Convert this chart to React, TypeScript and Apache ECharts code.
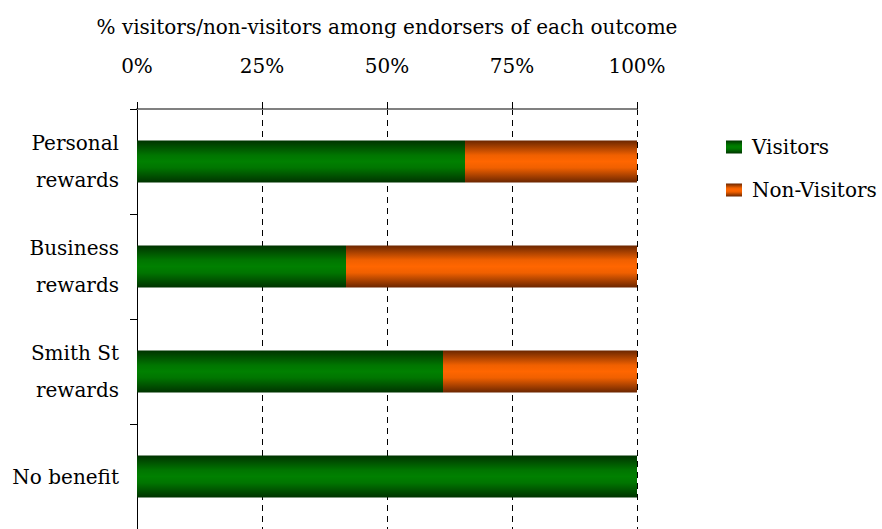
import React, { useEffect, useRef } from "react";
import * as echarts from "echarts";

const categories = ["Personal\nrewards", "Business\nrewards", "Smith St\nrewards", "No benefit"];
const visitors = [65.6, 41.8, 61.2, 100];
const nonVisitors = [34.4, 58.2, 38.8, 0];
const xTicks = [0, 25, 50, 75, 100];

const FONT = "'DejaVu Serif', serif";
const FS = 20;

export default function App() {
  const ref = useRef<HTMLDivElement>(null);
  useEffect(() => {
    if (!ref.current) return;
    const chart = echarts.init(ref.current, null, { renderer: "svg" });
    const green = new echarts.graphic.LinearGradient(0, 0, 0, 1, [
      { offset: 0, color: "#003300" },
      { offset: 0.35, color: "#007500" },
      { offset: 0.5, color: "#008000" },
      { offset: 0.65, color: "#007500" },
      { offset: 1, color: "#003300" },
    ]);
    const orange = new echarts.graphic.LinearGradient(0, 0, 0, 1, [
      { offset: 0, color: "#6b2600" },
      { offset: 0.35, color: "#f06000" },
      { offset: 0.5, color: "#ff6600" },
      { offset: 0.65, color: "#f06000" },
      { offset: 1, color: "#6b2600" },
    ]);
    chart.setOption({
      animation: false,
      textStyle: { fontFamily: FONT, color: "#000" },
      legend: {
        orient: "vertical",
        left: 726,
        top: 137,
        icon: "rect",
        itemWidth: 16,
        itemHeight: 13,
        itemGap: 23,
        padding: 0,
        textStyle: { fontFamily: FONT, fontSize: FS, color: "#000", padding: [0, 0, 0, 5] },
        data: [
          { name: "Visitors", itemStyle: { color: green } },
          { name: "Non-Visitors", itemStyle: { color: orange } },
        ],
      },
      grid: { left: 137, right: 245, top: 109, height: 427 },
      xAxis: {
        type: "value",
        position: "top",
        min: xTicks[0],
        max: xTicks[xTicks.length - 1],
        interval: 25,
        name: "% visitors/non-visitors among endorsers of each outcome",
        nameLocation: "middle",
        nameGap: 72,
        nameTextStyle: { fontFamily: FONT, fontSize: FS, color: "#000" },
        axisLine: { show: true, lineStyle: { color: "#808080", width: 2 } },
        axisTick: { show: true, length: 7, lineStyle: { color: "#000" } },
        axisLabel: {
          margin: 33,
          fontFamily: FONT,
          fontSize: FS,
          color: "#000",
          formatter: "{value}%",
        },
        splitLine: { show: true, lineStyle: { color: "#000", type: [6, 5], width: 1 } },
      },
      yAxis: {
        type: "category",
        inverse: true,
        data: categories,
        axisLine: { show: true, lineStyle: { color: "#000", width: 1 } },
        axisTick: { show: true, length: 7, lineStyle: { color: "#000" } },
        axisLabel: {
          margin: 18,
          fontFamily: FONT,
          fontSize: FS,
          lineHeight: 37,
          color: "#000",
          align: "right",
        },
      },
      series: [
        {
          name: "Visitors",
          type: "bar",
          stack: "total",
          barWidth: "40%",
          data: visitors,
          itemStyle: { color: green },
        },
        {
          name: "Non-Visitors",
          type: "bar",
          stack: "total",
          barWidth: "40%",
          data: nonVisitors,
          itemStyle: { color: orange },
        },
      ],
    });
    return () => chart.dispose();
  }, []);
  return <div ref={ref} style={{ width: 882, height: 529, position: "absolute", left: 0, top: 0 }} />;
}
